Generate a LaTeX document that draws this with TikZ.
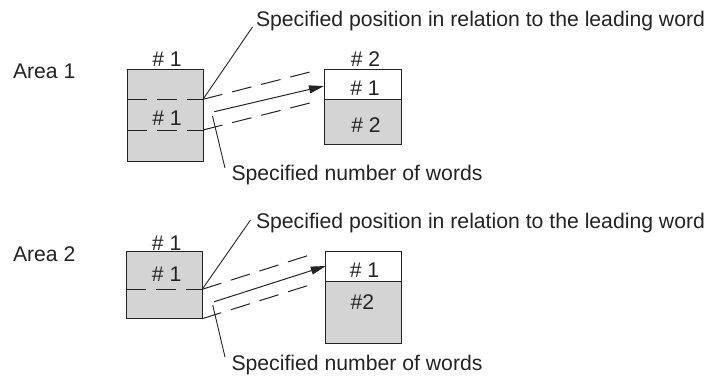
\documentclass[tikz,border=0pt]{standalone}
\usepackage{fontspec}
\setmainfont{Liberation Sans}
\usetikzlibrary{arrows.meta}
\definecolor{boxgray}{RGB}{212,212,212}
\definecolor{ink}{RGB}{35,35,35}
\begin{document}
\begin{tikzpicture}[x=1pt,y=-1pt,
  every node/.style={inner sep=0pt, outer sep=0pt},
  txt/.style={font=\fontsize{21.2}{24}\selectfont, text=ink},
  gbox/.style={draw=ink, fill=boxgray, line width=1pt},
  wbox/.style={draw=ink, fill=white, line width=1pt},
  dsh/.style={draw=ink, line width=1pt, dash pattern=on 20pt off 10pt},
  lead/.style={draw=ink, line width=0.9pt},
  arr/.style={draw=ink, line width=1pt, -{Triangle[length=15pt,width=8pt]}}
]
\useasboundingbox (0,0) rectangle (712,375);

% ---------------- Area 1 ----------------
\node[txt, anchor=base west] (area1) at (13,78) {Area 1};

\node[gbox, minimum width=76pt, minimum height=92pt] (L1) at (165,115) {};
\node[wbox, minimum width=77pt, minimum height=30pt] (R1t) at (362.5,84) {};
\node[gbox, minimum width=77pt, minimum height=45.5pt] (R1b) at (362.5,121.75) {};

\node[txt] (L1h) at (167,59) {\# 1};
\node[txt] (L1i) at (167,118) {\# 1};
\node[txt] (R1h) at (365.5,59.3) {\# 2};
\node[txt] (R1a) at (365,88) {\# 1};
\node[txt] (R1c) at (366,125) {\# 2};

\coordinate (a1l) at (127,99.3);
\coordinate (a1r) at (203,99.3);
\coordinate (b1l) at (127,130);
\coordinate (b1r) at (203,130);
\draw[dsh] (a1l) -- (a1r);
\draw[dsh] (b1l) -- (b1r);

\coordinate (a1e) at (315,70.7);
\coordinate (b1e) at (315,101.7);
\draw[dsh] (a1r) -- (a1e);
\draw[dsh] (b1r) -- (b1e);

\coordinate (ar1s) at (214.3,111.7);
\draw[arr] (ar1s) -- (R1t.west |- 0,86);

\node[txt, anchor=base west] (pos1) at (256,26.7) {Specified position in relation to the leading word};
\node[txt, anchor=base west] (num1) at (231.5,180.7) {Specified number of words};

\coordinate (lu1) at (252.5,27);
\coordinate (ld1s) at (212.5,116);
\coordinate (ld1e) at (225,168);
\draw[lead] (a1r) -- (lu1);
\draw[lead] (ld1s) -- (ld1e);

% ---------------- Area 2 ----------------
\node[txt, anchor=base west] (area2) at (13,261.7) {Area 2};

\node[gbox, minimum width=76pt, minimum height=67pt] (L2) at (164.2,285.2) {};
\node[wbox, minimum width=76pt, minimum height=29.5pt] (R2t) at (363.8,266.5) {};
\node[gbox, minimum width=76pt, minimum height=62pt] (R2b) at (363.8,312.2) {};

\node[txt] (L2h) at (166.7,243.4) {\# 1};
\node[txt] (L2i) at (166.7,274.7) {\# 1};
\node[txt] (R2a) at (364.5,270) {\# 1};
\node[txt] (R2c) at (362.4,302) {\#2};

\coordinate (a2l) at (126.2,289.3);
\coordinate (a2r) at (202.2,289.3);
\coordinate (b2r) at (202.2,318.7);
\draw[dsh] (a2l) -- (a2r);

\coordinate (a2e) at (315,253.3);
\coordinate (b2e) at (315,283.3);
\draw[dsh] (a2r) -- (a2e);
\draw[dsh] (b2r) -- (b2e);

\coordinate (ar2s) at (214.3,301.7);
\draw[arr] (ar2s) -- (R2t.west |- 0,266);

\node[txt, anchor=base west] (pos2) at (256,228.3) {Specified position in relation to the leading word};
\node[txt, anchor=base west] (num2) at (231.5,370.7) {Specified number of words};

\coordinate (lu2) at (250.5,220);
\coordinate (ld2s) at (212.7,305);
\coordinate (ld2e) at (225,357);
\draw[lead] (a2r) -- (lu2);
\draw[lead] (ld2s) -- (ld2e);
\end{tikzpicture}
\end{document}
